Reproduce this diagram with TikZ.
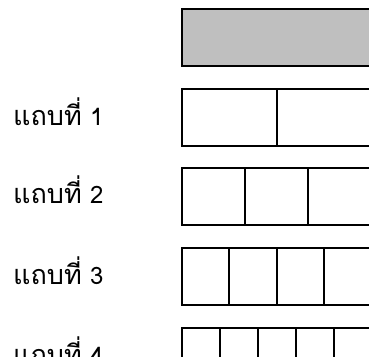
\documentclass[tikz,border=0pt]{standalone}
\usepackage{fontspec}
\newfontfamily\thaifont[Script=Thai]{Loma}
\newcommand{\rowlabel}[1]{\makebox[77pt][l]{\fontsize{27}{30}\selectfont แถบที่}{\fontsize{24}{26}\selectfont #1}}
\tikzset{
  cell/.style={draw=black, line width=1.8pt, minimum height=57pt, inner sep=0pt, outer sep=0pt, anchor=north west},
  graycell/.style={cell, fill=gray!50},
  lbl/.style={font=\thaifont, anchor=base west, inner sep=0pt}
}
\begin{document}
\begin{tikzpicture}[x=1pt,y=-1pt]
\useasboundingbox (0,0) rectangle (369,356);
\clip (0,0) rectangle (369,356);
\node[graycell, minimum width=190pt] (g) at (181.7,8.7) {};
% row 1
\foreach \i in {0,1} {
  \node[cell, minimum width=95pt] (a\i) at ({181.7+95*\i},89) {};
}
% row 2
\foreach \i in {0,1,2} {
  \node[cell, minimum width=63.33pt] (b\i) at ({181.7+63.33*\i},167.7) {};
}
% row 3
\foreach \i in {0,1,2,3} {
  \node[cell, minimum width=47.5pt] (c\i) at ({181.7+47.5*\i},248) {};
}
% row 4
\foreach \i in {0,1,2,3,4} {
  \node[cell, minimum width=38pt] (d\i) at ({181.7+38*\i},328) {};
}
\node[lbl] (l1) at (13,125) {\rowlabel{1}};
\node[lbl] (l2) at (13,203.7) {\rowlabel{2}};
\node[lbl] (l3) at (13,284) {\rowlabel{3}};
\node[lbl] (l4) at (13,364) {\rowlabel{4}};
\end{tikzpicture}
\end{document}
